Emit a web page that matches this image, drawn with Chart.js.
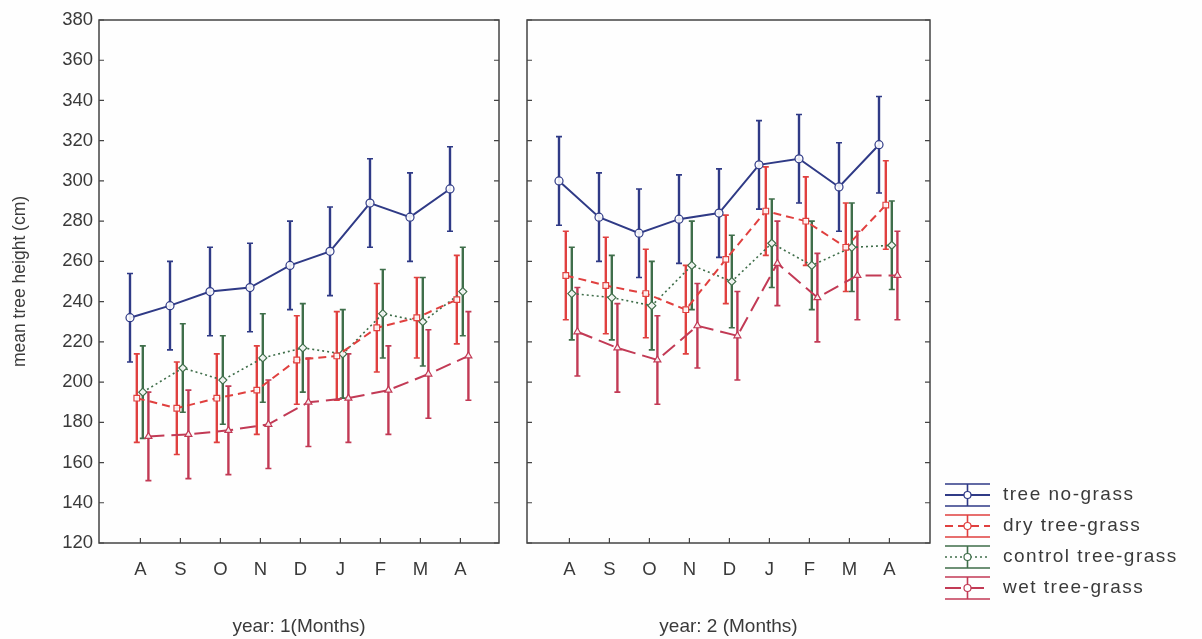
<!DOCTYPE html>
<html>
<head>
<meta charset="utf-8">
<script src="https://cdn.jsdelivr.net/npm/chart.js@4.4.1/dist/chart.umd.min.js"></script>
<style>
  html, body { margin: 0; padding: 0; background: #fefefe; }
  #wrap { position: relative; width: 1202px; height: 639px; overflow: hidden; }
  #box1 { position: absolute; left: 0; top: 0; width: 505px; height: 639px; }
  #box2 { position: absolute; left: 505px; top: 0; width: 697px; height: 639px; }
</style>
</head>
<body>
<div id="wrap">
  <div id="box1"><canvas id="c1"></canvas></div>
  <div id="box2"><canvas id="c2"></canvas></div>
</div>
<script>
// categories
const months = ['A', 'S', 'O', 'N', 'D', 'J', 'F', 'M', 'A'];
const seriesNames = ['tree no-grass', 'dry tree-grass', 'control tree-grass', 'wet tree-grass'];

// year 1 means and half error bars (cm)
const noGrass1 = [232, 238, 245, 247, 258, 265, 289, 282, 296];
const noGrassErr1 = [22, 22, 22, 22, 22, 22, 22, 22, 21];
const dry1 = [192, 187, 192, 196, 211, 213, 227, 232, 241];
const dryErr1 = [22, 23, 22, 22, 22, 22, 22, 20, 22];
const ctrl1 = [195, 207, 201, 212, 217, 214, 234, 230, 245];
const ctrlErr1 = [23, 22, 22, 22, 22, 22, 22, 22, 22];
const wet1 = [173, 174, 176, 179, 190, 192, 196, 204, 213];
const wetErr1 = [22, 22, 22, 22, 22, 22, 22, 22, 22];

// year 2
const noGrass2 = [300, 282, 274, 281, 284, 308, 311, 297, 318];
const noGrassErr2 = [22, 22, 22, 22, 22, 22, 22, 22, 24];
const dry2 = [253, 248, 244, 236, 261, 285, 280, 267, 288];
const dryErr2 = [22, 24, 22, 22, 22, 22, 22, 22, 22];
const ctrl2 = [244, 242, 238, 258, 250, 269, 258, 267, 268];
const ctrlErr2 = [23, 21, 22, 22, 23, 22, 22, 22, 22];
const wet2 = [225, 217, 211, 228, 223, 259, 242, 253, 253];
const wetErr2 = [22, 22, 22, 21, 22, 21, 22, 22, 22];

// look of each series
const styles = [
  { color: '#2f3a86', dash: [], point: 'circle', shift: -0.26, width: 2 },
  { color: '#e0403f', dash: [8, 5], point: 'rect', shift: -0.09, width: 2 },
  { color: '#3f6e4a', dash: [2, 3], point: 'rectRot', shift: 0.06, width: 1.6 },
  { color: '#c23a55', dash: [16, 7], point: 'triangle', shift: 0.2, width: 2 }
];

const TEXT = '#3a3a3a';
const FONT = 'Liberation Sans, Arial, sans-serif';

function makeSets(values, errors) {
  return values.map((vals, s) => {
    const st = styles[s];
    return {
      label: seriesNames[s],
      data: vals.map((v, i) => ({ x: i + st.shift, y: v })),
      errors: errors[s],
      borderColor: st.color,
      borderWidth: st.width,
      borderDash: st.dash,
      pointStyle: st.point,
      pointRadius: 4,
      pointBackgroundColor: 'rgba(255,255,255,0.9)',
      pointBorderColor: st.color,
      pointBorderWidth: 1.2,
      tension: 0,
      fill: false
    };
  });
}

const errorBars = {
  id: 'errorBars',
  beforeDatasetsDraw(chart) {
    const { ctx } = chart;
    const ys = chart.scales.y;
    chart.data.datasets.forEach((ds, di) => {
      const meta = chart.getDatasetMeta(di);
      ctx.save();
      ctx.strokeStyle = ds.borderColor;
      meta.data.forEach((pt, i) => {
        const v = ds.data[i].y, e = ds.errors[i];
        const top = ys.getPixelForValue(v + e), bot = ys.getPixelForValue(v - e);
        ctx.lineWidth = 2.4;
        ctx.beginPath();
        ctx.moveTo(pt.x, top); ctx.lineTo(pt.x, bot);
        ctx.stroke();
        ctx.lineWidth = 1.6;
        ctx.beginPath();
        ctx.moveTo(pt.x - 3, top); ctx.lineTo(pt.x + 3, top);
        ctx.moveTo(pt.x - 3, bot); ctx.lineTo(pt.x + 3, bot);
        ctx.stroke();
      });
      ctx.restore();
    });
  }
};

const frame = {
  id: 'frame',
  afterDraw(chart) {
    const { ctx, chartArea: a } = chart;
    const ys = chart.scales.y, xs = chart.scales.x;
    ctx.save();
    ctx.strokeStyle = '#444';
    ctx.lineWidth = 1.5;
    ctx.strokeRect(a.left, a.top, a.right - a.left, a.bottom - a.top);
    ctx.lineWidth = 1.2;
    ctx.beginPath();
    ys.ticks.forEach(t => {
      const y = ys.getPixelForValue(t.value);
      ctx.moveTo(a.left, y); ctx.lineTo(a.left + 5, y);
      ctx.moveTo(a.right, y); ctx.lineTo(a.right - 5, y);
    });
    xs.ticks.forEach(t => {
      const x = xs.getPixelForValue(t.value);
      ctx.moveTo(x, a.bottom); ctx.lineTo(x, a.bottom - 5);
    });
    ctx.stroke();
    ctx.restore();
  }
};

const legendBox = {
  id: 'legendBox',
  afterDraw(chart) {
    const { ctx, chartArea: a } = chart;
    const x0 = a.right + 15, x1 = a.right + 60, xm = (x0 + x1) / 2;
    ctx.save();
    chart.data.datasets.forEach((ds, i) => {
      const cy = 495 + i * 31;
      ctx.strokeStyle = ds.borderColor;
      ctx.setLineDash([]);
      ctx.lineWidth = 1.6;
      ctx.beginPath();
      ctx.moveTo(x0, cy - 11); ctx.lineTo(x1, cy - 11);
      ctx.moveTo(x0, cy + 11); ctx.lineTo(x1, cy + 11);
      ctx.moveTo(xm, cy - 11); ctx.lineTo(xm, cy + 11);
      ctx.stroke();
      ctx.setLineDash(ds.borderDash);
      ctx.lineWidth = ds.borderWidth;
      ctx.beginPath();
      ctx.moveTo(x0, cy); ctx.lineTo(x1, cy);
      ctx.stroke();
      ctx.setLineDash([]);
      ctx.fillStyle = '#fff';
      ctx.lineWidth = 1.2;
      ctx.beginPath();
      ctx.arc(xm, cy, 3.5, 0, Math.PI * 2);
      ctx.fill(); ctx.stroke();
      ctx.fillStyle = TEXT;
      ctx.font = '19px ' + FONT;
      ctx.letterSpacing = '1.5px';
      ctx.textBaseline = 'middle';
      ctx.textAlign = 'left';
      ctx.fillText(ds.label, a.right + 73, cy);
    });
    ctx.restore();
  }
};

function makeChart(id, sets, xTitle, xMin, xMax, showY, padRight, plugins) {
  return new Chart(document.getElementById(id), {
    type: 'line',
    data: { datasets: sets },
    options: {
      responsive: true,
      maintainAspectRatio: false,
      animation: false,
      layout: { padding: { top: 20, right: padRight, left: 0, bottom: 0 } },
      plugins: { legend: { display: false }, tooltip: { enabled: false } },
      scales: {
        x: {
          type: 'linear',
          min: xMin,
          max: xMax,
          afterBuildTicks: s => { s.ticks = months.map((m, i) => ({ value: i })); },
          afterFit: s => { s.height = 96; },
          grid: { display: false, drawTicks: false },
          border: { display: false },
          ticks: {
            padding: 16,
            color: TEXT,
            font: { family: FONT, size: 18.5 },
            maxRotation: 0,
            autoSkip: false,
            callback: v => months[v] ?? ''
          },
          title: {
            display: true,
            text: xTitle,
            color: TEXT,
            font: { family: FONT, size: 19 },
            padding: { top: 0, bottom: 1 }
          }
        },
        y: {
          min: 120,
          max: 380,
          afterFit: s => { s.width = showY ? 99 : 22; },
          grid: { display: false, drawTicks: false },
          border: { display: false },
          ticks: {
            display: showY,
            stepSize: 20,
            padding: 6,
            color: TEXT,
            font: { family: FONT, size: 18.5 }
          },
          title: {
            display: showY,
            text: 'mean tree height (cm)',
            color: TEXT,
            font: { family: FONT, size: 17.5 },
            padding: { top: 10, bottom: 0 }
          }
        }
      }
    },
    plugins: plugins
  });
}

makeChart('c1',
  makeSets([noGrass1, dry1, ctrl1, wet1], [noGrassErr1, dryErr1, ctrlErr1, wetErr1]),
  'year: 1(Months)', -1.035, 8.965, true, 6, [errorBars, frame]);

makeChart('c2',
  makeSets([noGrass2, dry2, ctrl2, wet2], [noGrassErr2, dryErr2, ctrlErr2, wetErr2]),
  'year: 2 (Months)', -1.06, 9.015, false, 272, [errorBars, frame, legendBox]);
</script>
</body>
</html>
